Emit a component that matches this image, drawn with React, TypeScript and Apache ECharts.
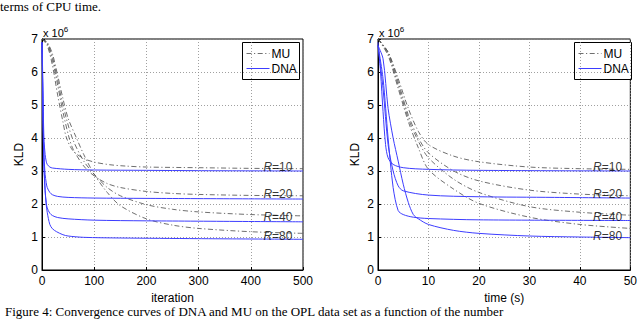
import React, { useEffect, useRef } from "react";
import * as echarts from "echarts";

type P = [number, number];

// ---- Left panel: KLD vs iteration ----
const muIterR10: P[] = [[0,7],[10,6.8],[20,6.2],[30,5.3],[40,4.5],[47,4.0],[60,3.6],[80,3.38],[100,3.27],[130,3.19],[160,3.15],[200,3.12],[300,3.1],[400,3.08],[500,3.07]];
const muIterR20: P[] = [[0,7],[10,6.85],[20,6.35],[30,5.6],[40,4.8],[52,4.0],[60,3.65],[80,3.15],[100,2.85],[125,2.62],[150,2.5],[200,2.38],[250,2.32],[300,2.29],[400,2.26],[500,2.25]];
const muIterR40: P[] = [[0,7],[10,6.88],[20,6.45],[30,5.75],[40,5.0],[58,4.0],[80,3.3],[100,2.9],[125,2.5],[150,2.25],[200,1.98],[250,1.84],[300,1.76],[400,1.68],[500,1.64]];
const muIterR80: P[] = [[0,7],[10,6.9],[20,6.55],[30,5.9],[40,5.2],[50,4.6],[66,4.0],[80,3.5],[100,2.9],[125,2.35],[150,1.95],[200,1.55],[250,1.36],[300,1.26],[400,1.16],[500,1.11]];

const dnaIterR10: P[] = [[0,6.9],[1,6.2],[2,5.2],[3,4.4],[4,3.9],[6,3.5],[8,3.3],[10,3.2],[15,3.12],[20,3.09],[50,3.05],[100,3.03],[200,3.02],[300,3.01],[500,3.0]];
const dnaIterR20: P[] = [[0,6.9],[1,6.0],[2,4.8],[3,4.0],[4,3.4],[6,2.9],[8,2.65],[10,2.5],[15,2.35],[20,2.28],[30,2.23],[50,2.2],[100,2.18],[200,2.17],[500,2.15]];
const dnaIterR40: P[] = [[0,6.9],[1,5.9],[2,4.6],[3,3.7],[4,3.1],[6,2.4],[8,2.05],[10,1.88],[15,1.72],[20,1.65],[30,1.59],[50,1.55],[100,1.51],[200,1.49],[500,1.46]];
const dnaIterR80: P[] = [[0,6.9],[1,5.8],[2,4.5],[3,3.6],[4,3.0],[6,2.4],[8,2.0],[10,1.75],[15,1.38],[20,1.25],[28,1.16],[40,1.07],[50,1.03],[80,0.99],[150,0.97],[300,0.95],[500,0.93]];

// ---- Right panel: KLD vs time (s) ----
const muTimeR10: P[] = [[0,7],[2,6.6],[4,5.8],[6,4.9],[8,4.2],[10,3.8],[15,3.45],[20,3.28],[30,3.12],[40,3.07],[50,3.05]];
const muTimeR20: P[] = [[0,7],[2,6.6],[4,5.7],[6,4.7],[8,4.0],[10,3.55],[15,3.0],[20,2.7],[30,2.42],[40,2.3],[50,2.25]];
const muTimeR40: P[] = [[0,7],[2,6.55],[4,5.6],[6,4.6],[8,3.9],[10,3.4],[15,2.75],[20,2.35],[30,1.92],[40,1.75],[50,1.66]];
const muTimeR80: P[] = [[0,7],[2,6.5],[4,5.5],[6,4.5],[8,3.7],[10,3.05],[15,2.45],[20,2.02],[30,1.6],[40,1.38],[50,1.26]];

const dnaTimeR10: P[] = [[0,6.9],[0.5,6.0],[1,4.8],[1.5,3.8],[2,3.4],[3,3.2],[5,3.1],[10,3.05],[20,3.02],[50,3.0]];
const dnaTimeR20: P[] = [[0,6.8],[1,5.5],[2,3.8],[3,3.0],[4,2.55],[5,2.4],[10,2.27],[20,2.22],[35,2.2],[50,2.18]];
const dnaTimeR40: P[] = [[0,6.8],[1,5.8],[2,4.0],[3,2.5],[4,1.8],[5,1.68],[7,1.6],[10,1.56],[20,1.52],[50,1.5]];
const dnaTimeR80: P[] = [[0,6.8],[1,6.4],[2,4.9],[3,4.0],[4,3.3],[5,2.6],[6,2.05],[7,1.68],[8,1.55],[10,1.38],[15,1.2],[20,1.11],[30,1.03],[40,1.0],[50,0.98]];

const rankLabels = ["10", "20", "40", "80"];
const rankLabelValues = [3.11, 2.29, 1.62, 1.03];
const iterLabelX = 452;
const timeLabelX = 45.5;

const yTicks = { min: 0, max: 7, interval: 1 };
const iterTicks = { min: 0, max: 500, interval: 100 };
const timeTicks = { min: 0, max: 50, interval: 10 };

const MU_COLOR = "#4a4a4a";
const DNA_COLOR = "#3d3dff";
const FONT = "Liberation Sans, Arial, sans-serif";

export default function App() {
  const ref = useRef<HTMLDivElement>(null);
  useEffect(() => {
    document.body.style.margin = "0";
    const chart = echarts.init(ref.current!, null, { renderer: "svg" });

    const grids = [
      { left: 42, top: 39, width: 261, height: 231 },
      { left: 378, top: 39, width: 255, height: 231 },
    ];

    const axisCommon = {
      axisLine: { show: true, lineStyle: { color: "#000", width: 1 } },
      axisTick: { show: true, inside: true, length: 3, lineStyle: { color: "#000" } },
      axisLabel: { color: "#000", fontSize: 12, fontFamily: FONT },
      splitLine: { show: true, lineStyle: { color: "#888", width: 0.8, type: [1, 2] } },
    };

    const xAxes: any[] = [
      { type: "value", gridIndex: 0, ...iterTicks, ...axisCommon, axisLabel: { ...axisCommon.axisLabel, margin: 5 },
        name: "iteration", nameLocation: "middle", nameGap: 20, nameTextStyle: { color: "#000", fontSize: 12, fontFamily: FONT } },
      { type: "value", gridIndex: 1, ...timeTicks, ...axisCommon, axisLabel: { ...axisCommon.axisLabel, margin: 5 },
        name: "time (s)", nameLocation: "middle", nameGap: 20, nameTextStyle: { color: "#000", fontSize: 12, fontFamily: FONT } },
    ];
    const yAxes: any[] = [0, 1].map((g) => ({
      type: "value", gridIndex: g, ...yTicks, ...axisCommon, axisLabel: { ...axisCommon.axisLabel, margin: 4 },
      name: "KLD", nameLocation: "middle", nameGap: 17, nameRotate: 90,
      nameTextStyle: { color: "#000", fontSize: 12, fontFamily: FONT },
    }));

    const mu = (data: P[], idx: number) => ({
      type: "line", xAxisIndex: idx, yAxisIndex: idx, data, showSymbol: false, symbol: "none",
      lineStyle: { color: MU_COLOR, width: 0.8, type: [5, 2.5, 1.2, 2.5] }, smooth: 0.3, z: 3,
    });
    const dna = (data: P[], idx: number) => ({
      type: "line", xAxisIndex: idx, yAxisIndex: idx, data, showSymbol: false, symbol: "none",
      lineStyle: { color: DNA_COLOR, width: 1 }, smooth: 0.3, z: 4,
    });
    const labels = (x: number, idx: number) => ({
      type: "scatter", xAxisIndex: idx, yAxisIndex: idx, symbolSize: 0, z: 6,
      data: rankLabels.map((r, i) => ({ value: [x, rankLabelValues[i]], name: r })),
      label: {
        show: true, position: "inside",
        formatter: (p: any) => "{i|R}=" + p.name,
        color: "#000", fontSize: 12, fontFamily: FONT,
        rich: { i: { fontStyle: "italic", fontSize: 12, fontFamily: FONT, color: "#000" } },
      },
    });

    const legend = (x: number) => ({
      type: "group", left: x, top: 42,
      children: [
        { type: "rect", shape: { x: 0, y: 0, width: 57, height: 37 }, style: { fill: "#fff", stroke: "#000", lineWidth: 1 } },
        { type: "line", shape: { x1: 4, y1: 11, x2: 27, y2: 11 }, style: { stroke: MU_COLOR, lineWidth: 0.8, lineDash: [5, 2.5, 1.2, 2.5] } },
        { type: "line", shape: { x1: 4, y1: 26, x2: 27, y2: 26 }, style: { stroke: DNA_COLOR, lineWidth: 1 } },
        { type: "text", x: 29, y: 11, style: { text: "MU", fill: "#000", font: `12px ${FONT}`, verticalAlign: "middle" } },
        { type: "text", x: 29, y: 26, style: { text: "DNA", fill: "#000", font: `12px ${FONT}`, verticalAlign: "middle" } },
      ],
    });
    const exponent = (x: number) => ({
      type: "text", left: x, top: 25,
      style: {
        text: "x 10{s|6}", fill: "#000", font: `11px ${FONT}`,
        rich: { s: { fontSize: 8, verticalAlign: "top", padding: [0, 0, 7, 0], fontFamily: FONT } },
      },
    });

    chart.setOption({
      animation: false,
      backgroundColor: "#fff",
      grid: grids.map((g) => ({ ...g, show: true, borderColor: "#000", borderWidth: 1, backgroundColor: "transparent", containLabel: false })),
      xAxis: xAxes,
      yAxis: yAxes,
      series: [
        mu(muIterR10, 0), mu(muIterR20, 0), mu(muIterR40, 0), mu(muIterR80, 0),
        dna(dnaIterR10, 0), dna(dnaIterR20, 0), dna(dnaIterR40, 0), dna(dnaIterR80, 0),
        mu(muTimeR10, 1), mu(muTimeR20, 1), mu(muTimeR40, 1), mu(muTimeR80, 1),
        dna(dnaTimeR10, 1), dna(dnaTimeR20, 1), dna(dnaTimeR40, 1), dna(dnaTimeR80, 1),
        labels(iterLabelX, 0), labels(timeLabelX, 1),
      ],
      graphic: [
        legend(242), legend(574),
        exponent(43), exponent(379),
        { type: "text", left: 0, top: 0, style: { text: "terms of CPU time.", fill: "#000", font: "13px 'Liberation Serif', serif" } },
        { type: "text", left: 5, top: 305, style: { text: "Figure 4: Convergence curves of DNA and MU on the OPL data set as a function of the number", fill: "#000", font: "13px 'Liberation Serif', serif" } },
      ],
    });
    return () => chart.dispose();
  }, []);
  return <div ref={ref} style={{ width: 640, height: 319 }} />;
}
